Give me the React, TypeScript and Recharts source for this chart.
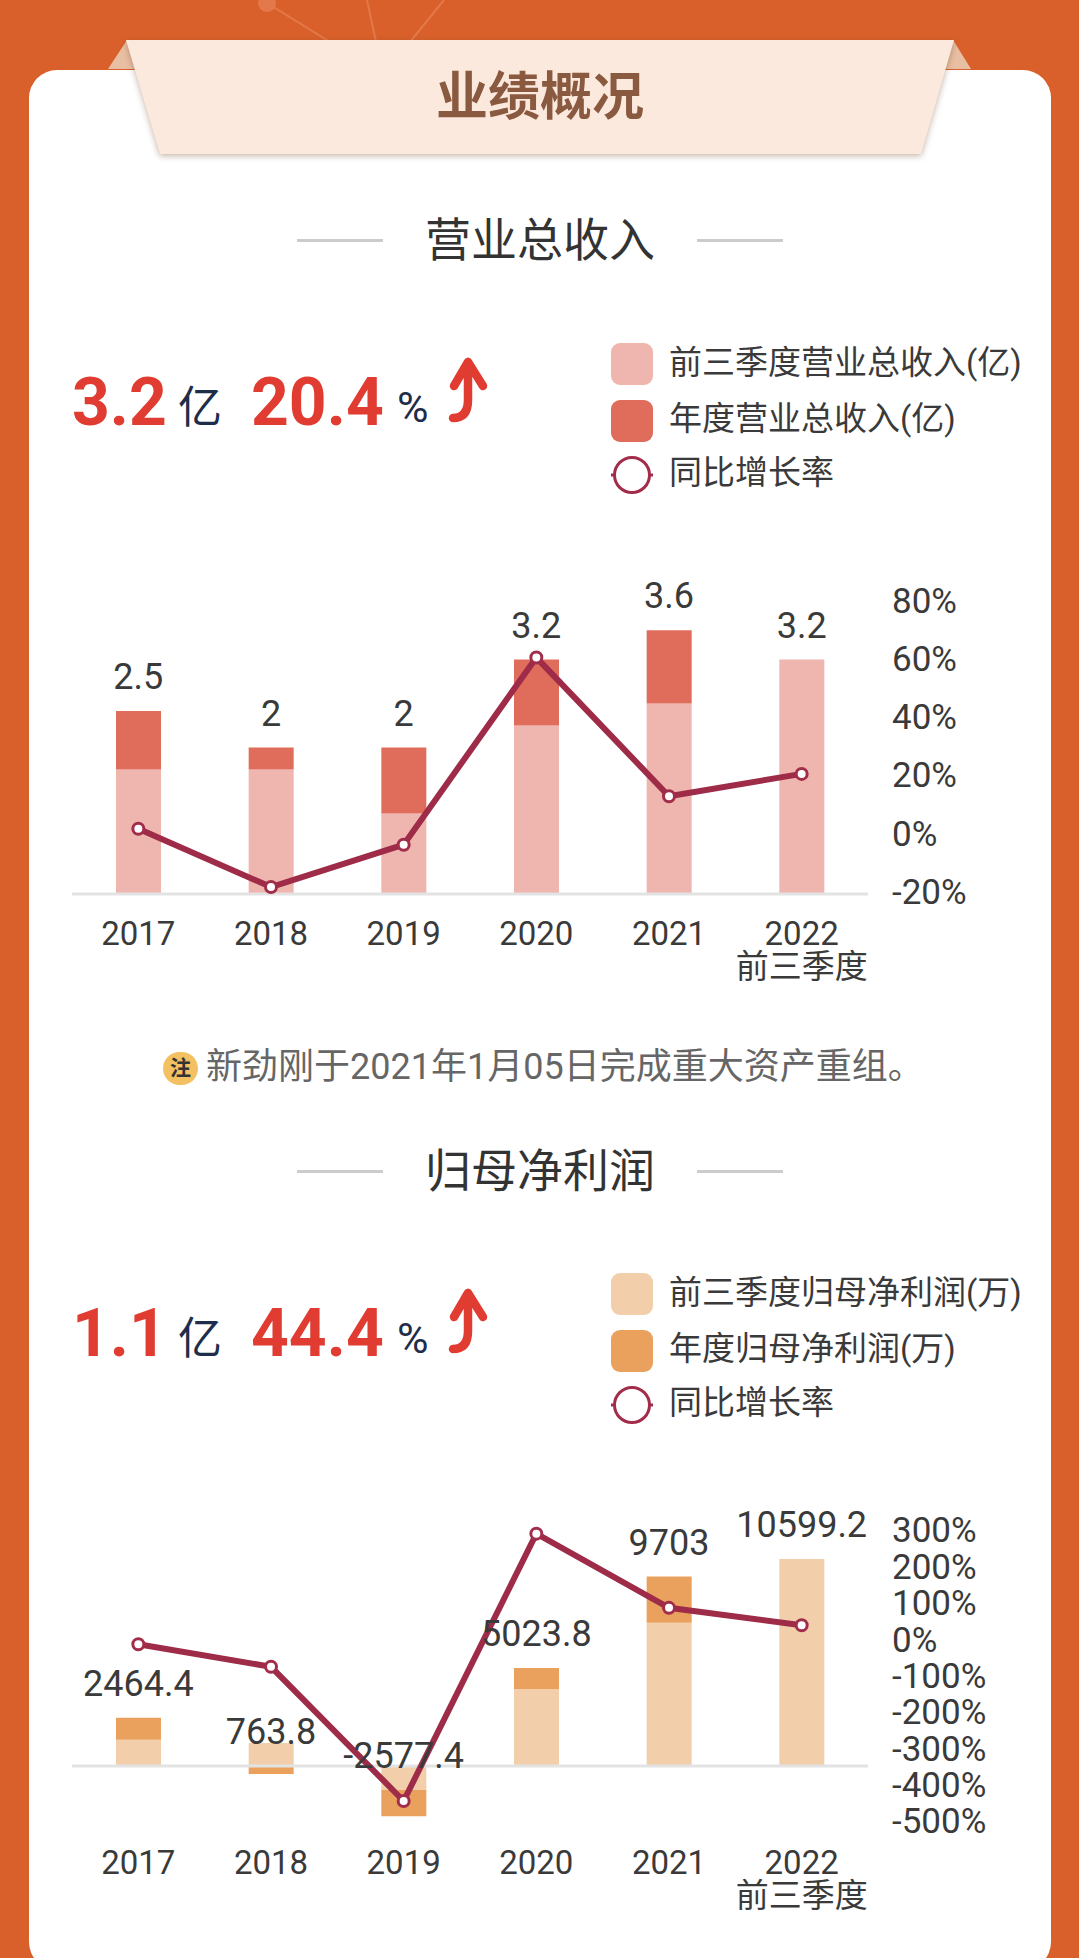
import React from "react";
import { ComposedChart, Bar, Line, XAxis, YAxis, ReferenceLine, LabelList } from "recharts";

const categories = ["2017", "2018", "2019", "2020", "2021", "2022|前三季度"];

const revenueQ3 = [1.7, 1.7, 1.1, 2.3, 2.6, 3.2];
const revenueRest = [0.8, 0.3, 0.9, 0.9, 1.0, 0];
const revenueTotal = ["2.5", "2", "2", "3.2", "3.6", "3.2"];
const revenueGrowth = [1.5, -18.6, -4, 60.5, 12.7, 20.4];
const revenueTicks = [-20, 0, 20, 40, 60, 80];

const profitQ3 = [1340, 1174, -1229, 3943, 7337, 10599.2];
const profitRest = [1124.4, -410.2, -1348.4, 1080.8, 2366, 0];
const profitTotal = ["2464.4", "763.8", "-2577.4", "5023.8", "9703", "10599.2"];
const profitGrowth = [-14, -76, -445, 290, 86, 38];
const profitTicks = [-500, -400, -300, -200, -100, 0, 100, 200, 300];

const FONT = 'Roboto, "Noto Sans CJK SC", sans-serif';
const LINE = "#9e2c48";
const TEXT = "#3a3a3a";

// the value label sits on the upper edge of the year's "rest" segment
const restTop = (q3: number, rest: number) => (rest >= 0 ? Math.max(q3, 0) + rest : q3 < 0 ? q3 : 0);

const build = (q3: number[], rest: number[], total: string[], growth: number[]) =>
  categories.map((c, i) => ({ c, q3: q3[i], rest: rest[i], total: total[i], growth: growth[i], anchor: restTop(q3[i], rest[i]) }));

const XTick = (props: any) => {
  const parts = String(props.payload.value).split("|");
  return (
    <text x={props.x} y={props.y + props.dy0} textAnchor="middle" fontSize={33} fill={TEXT} fontFamily={FONT}>
      {parts.map((p, i) => (
        <tspan key={i} x={props.x} dy={i === 0 ? 0 : 33}>{p}</tspan>
      ))}
    </text>
  );
};

const TopLabel = (props: any) => {
  const { x, y, value } = props;
  return (
    <text x={x} y={y - 22} textAnchor="middle" fontSize={36} fill={TEXT} fontFamily={FONT}>
      {value}
    </text>
  );
};

const Combo = (p: any) => (
  <div style={{ position: "absolute", left: 0, top: p.top }}>
    <ComposedChart
      width={1079}
      height={p.height}
      data={p.data}
      stackOffset="sign"
      margin={{ top: p.marginTop, right: 0, bottom: 0, left: 72 }}
      style={{ overflow: "visible" }}
    >
      <XAxis dataKey="c" xAxisId="x" height={p.xHeight} axisLine={false} tickLine={false} tickSize={0} interval={0} tick={<XTick dy0={p.tickDy} />} />
      <YAxis yAxisId="bar" hide width={0} domain={p.barDomain} allowDataOverflow type="number" />
      <YAxis
        yAxisId="line"
        orientation="right"
        width={211}
        domain={p.lineDomain}
        ticks={p.ticks}
        interval={0}
        type="number"
        axisLine={false}
        tickLine={false}
        tickSize={0}
        tickMargin={24}
        tick={{ fontSize: 35, fill: TEXT, fontFamily: FONT }}
        tickFormatter={(v: number) => `${v}%`}
      />
      <ReferenceLine xAxisId="x" yAxisId="bar" y={0} stroke="#e3e3e3" strokeWidth={3} />
      <Bar xAxisId="x" yAxisId="bar" dataKey="q3" stackId="s" fill={p.light} barSize={45} isAnimationActive={false} />
      <Bar xAxisId="x" yAxisId="bar" dataKey="rest" stackId="s" fill={p.dark} barSize={45} isAnimationActive={false} />
      <Line xAxisId="x" yAxisId="bar" dataKey="anchor" stroke="none" dot={false} isAnimationActive={false}>
        <LabelList dataKey="total" content={<TopLabel />} />
      </Line>
      <Line
        xAxisId="x"
        yAxisId="line"
        dataKey="growth"
        stroke={LINE}
        strokeWidth={6}
        dot={{ r: 5.5, fill: "#fff", stroke: "#a22d4b", strokeWidth: 3 }}
        isAnimationActive={false}
      />
    </ComposedChart>
  </div>
);

const abs = (left: number, top: number, style: any = {}) => ({ position: "absolute" as const, left, top, ...style });

const Title = ({ y, text }: { y: number; text: string }) => (
  <>
    <div style={abs(297, y - 1, { width: 86, height: 3, background: "#ccc" })} />
    <div style={abs(697, y - 1, { width: 86, height: 3, background: "#ccc" })} />
    <div style={abs(340, y - 30, { width: 400, height: 60, lineHeight: "60px", textAlign: "center", fontSize: 46, color: "#333" })}>{text}</div>
  </>
);

const Kpi = ({ y, a, b, ax }: { y: number; a: string; b: string; ax: number }) => {
  const big = { fontSize: 66, fontWeight: 700, color: "#e03c31", lineHeight: "80px", whiteSpace: "nowrap" };
  const small = { color: "#1d2d4a", lineHeight: "60px" };
  return (
    <>
      <div style={abs(ax, y + 5, big)}>{a}</div>
      <div style={abs(178, y + 20, { ...small, fontSize: 44 })}>亿</div>
      <div style={abs(251, y + 5, big)}>{b}</div>
      <div style={abs(397, y + 19, { ...small, fontSize: 43 })}>%</div>
      <svg style={abs(440, y - 4)} width={60} height={80}>
        <path d="M14 32 L28 8 L43 32 M28 8 L28 46 Q28 64 13 64" fill="none" stroke="#e03c31" strokeWidth={8.5} strokeLinecap="round" strokeLinejoin="round" />
      </svg>
    </>
  );
};

const LegendBlock = ({ y, a, b, light, dark }: { y: number; a: string; b: string; light: string; dark: string }) => {
  const row = (top: number, text: string) => (
    <div style={abs(669, top - 30, { height: 60, lineHeight: "60px", fontSize: 33, color: TEXT, whiteSpace: "nowrap" })}>{text}</div>
  );
  return (
    <>
      <div style={abs(611, y, { width: 42, height: 42, borderRadius: 9, background: light })} />
      {row(y + 20, a)}
      <div style={abs(611, y + 57, { width: 42, height: 42, borderRadius: 9, background: dark })} />
      {row(y + 76, b)}
      <svg style={abs(608, y + 110)} width={48} height={44}>
        <line x1={3} y1={22} x2={45} y2={22} stroke="#a22d4b" strokeWidth={3} />
        <circle cx={24} cy={22} r={17.5} fill="#fff" stroke="#a22d4b" strokeWidth={3} />
      </svg>
      {row(y + 130, "同比增长率")}
    </>
  );
};

export default function App() {
  return (
    <div style={{ position: "absolute", left: 0, top: 0, width: 1079, height: 1958, overflow: "hidden", background: "#d9602a", fontFamily: FONT }}>
      <svg style={abs(0, 0)} width={1079} height={80}>
        <g stroke="#e3794a" strokeWidth={2} fill="none">
          <line x1={267} y1={3} x2={330} y2={42} />
          <line x1={367} y1={0} x2={376} y2={42} />
          <line x1={444} y1={0} x2={410} y2={42} />
        </g>
        <ellipse cx={267} cy={3} rx={9} ry={9} fill="#e3794a" />
        <polygon points="108,69 127,40 150,69" fill="#e9bfa3" />
        <polygon points="971,69 953,40 930,69" fill="#e9bfa3" />
      </svg>
      <div style={abs(29, 70, { width: 1022, height: 1900, background: "#fff", borderRadius: 28 })} />
      <svg style={abs(0, 0, { overflow: "visible" })} width={1079} height={170}>
        <polygon
          points="126,40 954,40 921,154 160,154"
          fill="#fce9dd"
          style={{ filter: "drop-shadow(0px 2px 3px rgba(110,70,40,0.4))" }}
        />
      </svg>
      <div style={abs(340, 63, { width: 400, height: 70, lineHeight: "70px", textAlign: "center", fontSize: 52, fontWeight: 700, color: "#8a5a40" })}>业绩概况</div>

      <Title y={240} text="营业总收入" />
      <Kpi y={358} a="3.2" b="20.4" ax={72} />
      <LegendBlock y={343} a="前三季度营业总收入(亿)" b="年度营业总收入(亿)" light="#efb5af" dark="#e06c5c" />
      <Combo
        top={560}
        height={440}
        marginTop={41}
        xHeight={106}
        tickDy={49}
        data={build(revenueQ3, revenueRest, revenueTotal, revenueGrowth)}
        barDomain={[0, 4]}
        lineDomain={[-21, 80]}
        ticks={revenueTicks}
        light="#efb5af"
        dark="#e06c5c"
      />

      <div style={abs(163, 1052, { width: 35, height: 33, borderRadius: 17, background: "#f3c062", textAlign: "center", lineHeight: "33px", fontSize: 21, fontWeight: 700, color: "#333" })}>注</div>
      <div style={abs(206, 1037, { height: 60, lineHeight: "60px", fontSize: 36, color: "#666", whiteSpace: "nowrap" })}>新劲刚于2021年1月05日完成重大资产重组。</div>

      <Title y={1171} text="归母净利润" />
      <Kpi y={1289} a="1.1" b="44.4" ax={72} />
      <LegendBlock y={1273} a="前三季度归母净利润(万)" b="年度归母净利润(万)" light="#f3ceaa" dark="#e9a15d" />
      <Combo
        top={1480}
        height={478}
        marginTop={50}
        xHeight={137}
        tickDy={51}
        data={build(profitQ3, profitRest, profitTotal, profitGrowth)}
        barDomain={[-2816, 12084]}
        lineDomain={[-500, 300]}
        ticks={profitTicks}
        light="#f3ceaa"
        dark="#e9a15d"
      />
    </div>
  );
}
